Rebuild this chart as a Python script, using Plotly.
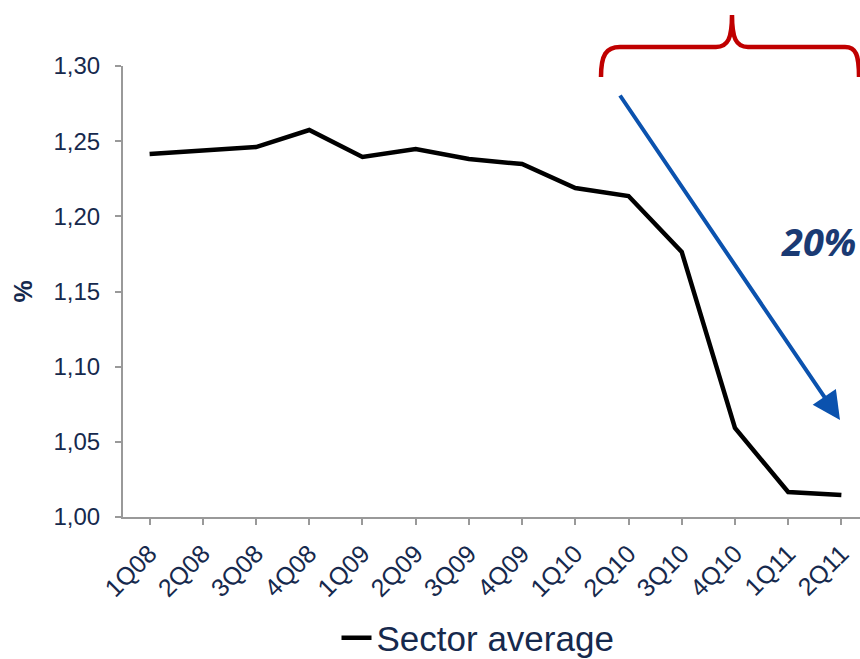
import plotly.graph_objects as go

categories = ["1Q08", "2Q08", "3Q08", "4Q08", "1Q09", "2Q09", "3Q09", "4Q09",
              "1Q10", "2Q10", "3Q10", "4Q10", "1Q11", "2Q11"]
sector_average = [1.2415, 1.2435, 1.2461, 1.2574, 1.2395, 1.2448, 1.2381, 1.2348,
                  1.2188, 1.2135, 1.1763, 1.0592, 1.0166, 1.0146]
y_ticks = [1.00, 1.05, 1.10, 1.15, 1.20, 1.25, 1.30]
y_tick_labels = ["1,00", "1,05", "1,10", "1,15", "1,20", "1,25", "1,30"]

W, H = 860, 659
L, R, T, B = 123, 0, 66, 142
pw, ph = W - L - R, H - T - B

def px(x):
    return (x - L) / pw

def py(y):
    return (H - B - y) / ph

navy = "#16294d"
fig = go.Figure()
fig.add_trace(go.Scatter(
    x=list(range(len(categories))), y=sector_average, mode="lines",
    name="Sector average", line=dict(color="black", width=4.5)))

fig.update_layout(
    width=W, height=H, margin=dict(l=L, r=R, t=T, b=B, autoexpand=False),
    paper_bgcolor="white", plot_bgcolor="white",
    font=dict(family="Liberation Sans, Arial", color=navy, size=23),
    showlegend=True,
    legend=dict(orientation="h", x=px(478), xanchor="center",
                y=py(638), yanchor="middle", font=dict(size=35, color=navy),
                bgcolor="rgba(0,0,0,0)"),
    xaxis=dict(range=[-0.5, 13.35], tickmode="array",
               tickvals=list(range(len(categories))), ticktext=categories,
               tickangle=-45, showline=True, linecolor="#999999", linewidth=2,
               ticks="outside", ticklen=6, tickcolor="#999999", tickwidth=1.5,
               tickson="boundaries", showgrid=False, zeroline=False,
               ticklabelstandoff=4,
               tickfont=dict(size=25, color=navy)),
    yaxis=dict(range=[1.0, 1.30], tickvals=y_ticks, ticktext=y_tick_labels,
               showline=True, linecolor="#999999", linewidth=2,
               ticks="outside", ticklen=6, tickcolor="#999999", tickwidth=1.5,
               ticklabelstandoff=10,
               showgrid=False, zeroline=False, tickfont=dict(size=24, color=navy),
               title=dict(text="<b>%</b>", font=dict(size=25, color=navy), standoff=14)),
)

# red brace
path = (f"M {px(601)},{py(77)} C {px(601)},{py(55)} {px(606)},{py(47)} {px(620)},{py(47)} "
        f"L {px(716)},{py(47)} C {px(728)},{py(47)} {px(732)},{py(38)} {px(732)},{py(15)} "
        f"C {px(732)},{py(38)} {px(736)},{py(47)} {px(748)},{py(47)} "
        f"L {px(845)},{py(47)} C {px(856)},{py(47)} {px(859)},{py(55)} {px(859)},{py(77)}")
fig.add_shape(type="path", path=path, xref="paper", yref="paper",
              line=dict(color="#c00000", width=4.5))

# blue arrow
fig.add_annotation(x=px(840), y=py(420), xref="paper", yref="paper",
                   ax=619 - 840, ay=94 - 420, axref="pixel", ayref="pixel",
                   text="", showarrow=True, arrowhead=2, arrowsize=1.4,
                   arrowwidth=4, arrowcolor="#0b52ae", standoff=0)

fig.add_annotation(x=px(818), y=py(241), xref="paper", yref="paper",
                   text="<b><i>20%</i></b>", showarrow=False, xanchor="center",
                   yanchor="middle",
                   font=dict(family="Open Sans, Liberation Sans", size=38, color="#1a3a73"))

fig.write_html("out.html", config={"displayModeBar": False},
               post_script="document.body.style.margin='0';document.body.style.overflow='hidden';")
